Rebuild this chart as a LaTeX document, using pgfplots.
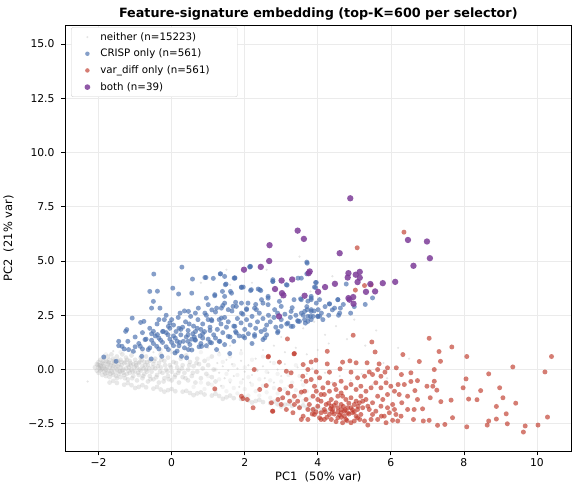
\documentclass[border=0pt]{standalone}
\usepackage{pgfplots}
\pgfplotsset{compat=1.18}
\usepackage{fontspec}
\setmainfont{DejaVu Sans}
\definecolor{cblue}{HTML}{4C72B0}
\definecolor{cred}{HTML}{C0392B}
\definecolor{cpurple}{HTML}{7D3C98}
\definecolor{cgray}{HTML}{B4B4B4}
\begin{document}
\begin{tikzpicture}
\begin{axis}[
  scale only axis, width=508pt, height=427pt,
  xmin=-2.92, xmax=10.95, ymin=-3.77, ymax=15.85,
  xtick={-2,0,2,4,6,8,10},
  xticklabels={−2,0,2,4,6,8,10},
  ytick={-2.5,0,2.5,5,7.5,10,12.5,15},
  yticklabels={−2.5,0.0,2.5,5.0,7.5,10.0,12.5,15.0},
  tick align=outside, tick pos=left,
  major tick length=4pt,
  every tick/.style={black, line width=0.7pt},
  ticklabel style={font=\fontsize{10.8}{12}\selectfont},
  yticklabel style={xshift=-3pt},
  grid=major,
  major grid style={black!8, line width=0.6pt},
  axis line style={black, line width=0.8pt},
  xlabel={PC1\ \ (50\% var)}, ylabel={PC2\ \ (21\% var)},
  label style={font=\fontsize{11.5}{13}\selectfont},
  xlabel style={yshift=2pt},
  ylabel style={yshift=8pt},
  title={\rule{0pt}{14pt}\bfseries Feature-signature embedding (top-K=600 per selector)},
  title style={font=\fontsize{12.8}{15}\selectfont, yshift=-4pt},
  legend style={at={(0.012,0.996)}, anchor=north west, draw=black!18, rounded corners=2pt,
    font=\fontsize{10.3}{12}\selectfont, row sep=3.4pt, inner xsep=4pt, inner ysep=3pt},
  legend image code/.code={\path (0cm,0cm) (0.8cm,0cm); \draw[#1, every mark/.append style={scale=0.9}] plot coordinates {(0.42cm,0cm)};},
  legend cell align=left,
]
% neither (diffuse)
\addplot[only marks, mark=*, mark size=1.2pt, color=cgray, mark options={draw opacity=0, fill=cgray, fill opacity=0.35}] coordinates {
(-2.3,-0.55)
(0.2,1.0)(0.6,0.9)(1.0,1.0)(1.3,0.8)(1.6,1.1)(1.9,0.9)(2.2,1.2)(2.5,0.9)(2.8,1.1)(3.1,0.8)(3.4,1.0)(3.7,0.7)
(4.0,0.9)(4.3,1.2)(1.8,1.6)(2.4,1.8)(3.0,1.5)(3.6,1.9)(4.2,1.6)(4.8,1.4)(5.3,1.1)(2.7,2.4)(3.3,2.7)(3.9,2.2)
(4.5,2.0)(5.0,2.3)(-1.0,0.8)(-0.5,0.8)(-1.6,0.85)(1.2,3.4)(1.6,3.9)(2.6,4.6)(3.8,3.6)(4.4,4.3)(2.2,4.0)(3.0,3.3)
(5.6,1.8)(6.2,1.0)(5.8,0.3)(6.5,0.5)(1.5,4.6)(0.8,4.0)(3.5,5.2)
(1.25,0.3)(1.3,-0.15)(1.35,-0.75)(1.4,0.15)(1.45,-0.4)(1.5,0.45)(1.55,-0.05)(1.6,-0.6)(1.65,0.25)(1.7,-0.3)(1.8,0.05)
(1.85,-0.8)(1.9,0.4)(1.95,-0.45)(2.0,-0.1)(2.1,0.2)(2.15,-0.6)(2.2,-0.25)(2.3,0.5)(2.35,-0.05)(2.4,-0.85)(2.5,0.15)(2.55,-0.4)
(2.65,-0.15)(2.7,0.35)(2.8,-0.6)(2.9,0.0)(3.0,-0.3)(3.1,0.25)(3.2,-0.75)(3.3,-0.1)(3.45,0.1)(3.55,-0.5)(3.7,-0.2)(3.85,0.05)
(4.0,-0.45)(4.2,-0.15)(4.4,-0.6)(4.6,-0.3)(4.9,-0.5)(5.2,-0.2)(5.5,-0.7)(5.9,-0.4)
};
\addlegendentry{neither (n=15223)}
% neither (fan of faint points between the core and the clusters)
\addplot[forget plot, only marks, mark=*, mark size=2.2pt, color=cgray, mark options={draw opacity=0, fill=cgray, fill opacity=0.16}] coordinates {
(0.6,-0.8)(0.9,-0.9)(1.2,-0.95)(1.5,-1.0)(1.8,-1.1)(2.1,-1.2)(2.4,-1.2)(2.7,-1.3)(3.0,-1.35)(3.3,-1.4)(3.6,-1.45)
(0.8,-0.6)(1.1,-0.7)(1.4,-0.8)(1.7,-0.85)(2.0,-0.9)(2.3,-1.0)(2.6,-1.05)(2.9,-1.1)(3.2,-1.15)(3.5,-1.2)(3.8,-1.3)
(1.0,-0.3)(1.3,-0.45)(1.6,-0.5)(1.9,-0.6)(2.2,-0.7)(2.5,-0.75)(2.8,-0.85)(3.1,-0.9)(3.4,-0.95)(3.7,-1.0)
(1.2,0.0)(1.5,-0.2)(1.8,-0.25)(2.1,-0.35)(2.4,-0.45)(2.7,-0.5)(3.0,-0.55)(3.3,-0.6)(3.6,-0.7)
(1.4,0.35)(1.7,0.2)(2.0,0.1)(2.3,0.0)(2.6,-0.1)(2.9,-0.2)(3.2,-0.25)(3.5,-0.3)
(1.0,0.5)(1.6,0.6)(2.2,0.45)(2.8,0.3)(3.4,0.2)(0.8,0.8)(1.3,0.7)(1.9,0.75)(2.5,0.6)
(-1.4,0.8)(-1.1,0.85)(-0.8,0.8)(-0.3,0.9)(0.0,0.8)(0.4,0.95)(-1.8,0.7)
};
% neither (dense core and lower streak)
\addplot[forget plot, only marks, mark=*, mark size=2.4pt, color=cgray, mark options={draw opacity=0, fill=cgray, fill opacity=0.3}] coordinates {
(-2.1,0.1)(-2.05,0.25)(-2.05,-0.05)(-2.0,0.35)(-2.0,0.1)(-2.0,-0.15)(-1.95,0.45)(-1.95,0.2)(-1.95,-0.05)(-1.9,0.3)(-1.9,-0.25)(-1.9,0.05)
(-1.85,0.55)(-1.85,0.15)(-1.85,-0.1)(-1.8,0.4)(-1.8,-0.3)(-1.8,0.0)(-1.75,0.25)(-1.75,0.6)(-1.75,-0.15)(-1.7,0.45)(-1.7,0.1)(-1.7,-0.35)
(-1.65,0.3)(-1.65,-0.05)(-1.65,0.7)(-1.6,0.15)(-1.6,-0.25)(-1.6,0.5)(-1.55,0.35)(-1.55,-0.1)(-1.5,0.0)(-1.5,0.6)(-1.5,-0.4)(-1.45,0.25)
(-1.45,-0.2)(-1.4,0.45)(-1.4,0.1)(-1.4,-0.35)(-1.35,0.7)(-1.35,-0.05)(-1.3,0.3)(-1.3,-0.25)(-1.25,0.55)(-1.25,0.05)(-1.2,-0.45)(-1.2,0.2)
(-1.15,0.4)(-1.15,-0.15)(-1.1,0.0)(-1.1,0.65)(-1.05,-0.3)(-1.05,0.25)(-1.0,0.45)(-1.0,-0.1)(-0.95,-0.5)(-0.95,0.1)(-0.9,0.3)(-0.9,-0.25)
(-0.85,0.55)(-0.85,-0.05)(-0.8,0.15)(-0.8,-0.4)(-0.75,0.35)(-0.75,-0.2)(-0.7,0.0)(-0.7,0.6)(-0.65,-0.55)(-0.65,0.2)(-0.6,0.4)(-0.6,-0.3)
(-0.55,-0.1)(-0.5,0.25)(-0.5,-0.45)(-0.45,0.5)(-0.45,0.05)(-0.4,-0.25)(-0.35,0.3)(-0.35,-0.6)(-0.3,0.1)(-0.3,0.7)(-0.25,-0.15)(-0.2,0.4)
(-0.2,-0.4)(-0.15,0.0)(-0.1,0.55)(-0.1,-0.3)(-0.05,0.2)(0.0,-0.5)(0.0,-0.1)(0.05,0.35)(0.1,-0.25)(0.1,0.75)(0.15,0.1)(0.2,-0.6)
(0.2,-0.05)(0.25,0.5)(0.3,-0.35)(0.3,0.2)(0.35,-0.15)(0.4,0.65)(0.45,-0.5)(0.45,0.0)(0.5,0.35)(0.55,-0.3)(0.6,0.15)(0.65,-0.6)
(0.7,-0.1)(0.7,0.5)(0.75,0.25)(0.8,-0.4)(0.85,0.05)(0.9,0.4)(0.95,-0.2)(1.0,-0.65)(1.0,0.2)(1.1,-0.35)(1.1,0.6)(1.15,0.0)(1.2,-0.55)
(-1.98,0.18)(-1.92,0.0)(-1.88,0.38)(-1.82,-0.18)(-1.78,0.12)(-1.72,0.32)(-1.68,-0.2)(-1.62,0.05)(-1.58,0.4)(-1.52,-0.3)(-1.48,0.15)(-1.42,-0.1)
(-1.38,0.35)(-1.32,0.0)(-1.28,-0.4)(-1.22,0.45)(-1.18,-0.05)(-1.12,0.2)(-1.08,-0.4)(-1.02,0.1)(-0.98,0.3)(-0.92,-0.15)(-0.88,0.0)(-0.82,0.45)
(-0.78,-0.3)(-0.72,0.2)(-0.68,-0.1)(-0.62,0.05)(-0.58,-0.45)(-0.52,0.1)(-0.48,0.4)(-0.42,-0.35)(-0.38,0.15)(-0.32,-0.1)(-0.28,0.45)(-0.22,-0.55)
(-0.18,0.2)(-0.12,-0.1)(-0.08,-0.45)(-0.02,0.1)(0.08,-0.35)(0.12,0.3)(0.18,-0.15)(0.28,0.05)(0.38,-0.4)(0.48,0.2)(0.58,-0.15)(0.68,0.3)
(-2.02,0.22)(-1.97,0.05)(-1.93,0.15)(-1.87,0.25)(-1.83,0.05)(-1.77,0.35)(-1.73,-0.05)(-1.67,0.2)(-1.63,-0.15)(-1.57,0.25)(-1.53,0.1)(-1.47,0.4)
(-1.43,-0.05)(-1.37,0.2)(-1.33,-0.15)(-1.27,0.35)(-1.23,-0.2)(-1.17,0.1)(-1.13,0.3)(-1.07,-0.1)(-0.97,0.2)(-0.87,0.35)(-0.77,0.05)(-0.67,0.35)
(-1.7,-0.6)(-1.5,-0.62)(-1.3,-0.7)(-1.1,-0.72)(-0.9,-0.8)(-0.7,-0.82)(-0.5,-0.88)(-0.3,-0.92)(-0.1,-0.95)(0.1,-1.0)(0.3,-1.02)(0.5,-1.08)
(0.7,-1.1)(0.9,-1.15)(1.1,-1.2)(1.3,-1.22)(1.5,-1.28)(1.7,-1.32)(1.9,-1.36)(2.1,-1.42)(2.3,-1.45)(2.5,-1.5)(2.7,-1.55)(2.9,-1.6)
(3.1,-1.62)(3.3,-1.68)(3.5,-1.72)(3.7,-1.75)(3.9,-1.8)(4.1,-1.85)(4.3,-1.9)(-1.6,-0.52)(-1.2,-0.62)(-0.8,-0.72)(-0.4,-0.8)(0.0,-0.9)
(0.4,-0.98)(0.8,-1.05)(1.2,-1.12)(1.6,-1.2)(2.0,-1.3)(2.4,-1.4)(2.8,-1.48)(3.2,-1.58)(3.6,-1.65)(4.0,-1.75)(-1.0,-0.85)(-0.2,-1.02)
(0.6,-1.18)(1.4,-1.35)(2.2,-1.52)(3.0,-1.7)(3.8,-1.88)
};
% CRISP only
\addplot[only marks, mark=*, mark size=2.5pt, color=cblue, mark options={draw opacity=0, fill=cblue, fill opacity=0.68}] coordinates {
(0.28,4.72)(-0.49,4.40)(0.57,4.17)(0.91,4.24)(1.33,4.41)(1.14,4.20)(1.45,4.29)(1.71,4.21)(2.16,4.75)(-0.60,3.60)(-0.39,3.61)(0.03,3.75)
(0.19,3.48)(0.55,3.52)(0.95,3.29)(1.18,3.40)(1.49,3.94)(1.39,3.60)(1.61,3.60)(1.91,3.78)(2.16,3.64)(2.44,3.64)(2.77,4.06)(3.71,4.90)
(-0.50,3.14)(-0.55,2.83)(-0.32,2.83)(-1.08,2.37)(-0.85,2.17)(-0.76,2.22)(-1.23,1.84)(-1.26,1.76)(-1.45,1.30)(-1.36,1.07)(-1.52,0.38)(-1.86,0.58)
(-1.18,0.92)(-1.05,0.84)(-0.86,1.07)(-0.73,1.38)(-0.50,1.76)(-0.39,1.61)(-0.23,1.76)(-0.09,1.99)(0.0,2.30)(0.23,2.60)(0.46,2.68)(0.73,2.83)
(1.00,2.99)(1.23,2.83)(1.45,3.06)(1.68,2.91)(1.91,3.06)(2.05,2.76)(2.27,2.83)(2.46,3.22)(2.64,2.99)(2.82,2.76)(3.00,2.91)(3.27,2.68)
(3.55,2.60)(3.82,2.68)(4.05,2.45)(3.27,1.99)(3.50,2.22)(3.73,2.22)(2.55,1.46)(2.27,1.61)(2.00,1.46)(1.77,1.69)(1.55,1.53)(1.59,0.74)
(1.32,1.30)(1.09,1.23)(1.23,0.92)(0.82,1.07)(0.64,1.38)(0.46,0.92)(0.27,0.61)(0.41,0.54)(0.09,0.77)(-0.09,0.92)(-0.27,0.61)(-0.56,0.49)
(-0.41,1.07)(-0.64,0.92)(-0.82,0.61)
(3.70,4.95)(3.70,4.41)(3.94,4.01)(3.94,3.78)(4.78,3.94)(3.82,3.29)(3.73,3.15)(3.96,3.06)(4.32,3.02)(4.55,3.22)(4.62,2.83)(4.46,2.83)
(4.57,2.50)(3.82,2.76)(3.64,2.68)(3.73,2.45)(3.87,2.45)(4.00,2.45)(4.14,2.30)(3.66,2.14)
(2.14,4.72)(1.73,4.23)(2.77,4.14)(3.46,4.21)(3.16,3.89)(3.96,4.01)(4.55,3.22)(4.32,3.03)(3.91,3.80)(1.96,3.80)(2.41,3.68)(2.64,3.37)
(3.35,3.22)(3.53,3.26)(3.82,3.22)
(3.55,3.22)(3.82,3.37)(4.05,3.22)(3.71,2.76)(4.01,2.76)(3.46,2.22)(3.64,2.30)(3.82,2.30)(4.00,2.45)(3.18,2.14)(3.32,1.99)(3.00,1.99)
(2.91,1.76)(2.55,1.84)(2.27,1.53)(2.50,1.38)(1.96,1.53)(1.73,1.99)(1.36,2.37)(1.09,2.30)(0.91,2.60)(0.94,4.24)(1.34,4.41)(1.47,3.91)
(1.73,4.21)(1.91,3.80)(2.14,4.75)(1.18,3.45)(1.45,3.37)(1.64,3.52)(2.18,3.68)(2.37,3.71)(2.50,3.06)(2.77,4.06)(2.95,3.14)(2.64,3.29)
(3.14,3.91)(3.55,4.21)(1.77,2.91)(2.09,3.06)(2.32,2.76)(1.91,2.60)(1.55,2.76)(1.36,2.83)
(5.0,2.9)(5.3,3.0)(4.9,2.6)(5.5,3.3)
(-1.2,1.3)(-1.0,1.5)(-0.9,1.2)(-0.8,1.7)(-0.7,1.4)(-0.6,1.9)(-0.5,1.2)(-0.45,1.55)(-0.4,2.1)(-0.3,1.35)(-0.25,1.75)(-0.2,2.3)
(-0.15,1.05)(-0.1,1.6)(-0.05,1.9)(0.0,1.25)(0.05,2.05)(0.1,1.45)(0.12,1.75)(0.18,2.4)(0.2,1.1)(0.25,1.6)(0.3,1.95)(0.32,1.3)
(0.38,2.2)(0.4,1.5)(0.45,1.8)(0.5,1.15)(0.52,2.45)(0.58,1.65)(0.6,2.0)(0.65,1.35)(0.7,1.9)(0.72,2.3)(0.78,1.55)(0.8,1.2)
(0.85,2.1)(0.9,1.75)(0.95,2.5)(1.0,1.4)(1.05,1.95)(1.1,2.25)(1.15,1.6)(1.2,2.65)(1.25,1.85)(1.3,1.3)(1.35,2.1)(1.4,1.7)
(1.45,2.4)(1.5,1.95)(1.55,2.2)(1.6,1.5)(1.65,2.7)(1.7,2.0)(1.75,1.75)(1.8,2.35)(1.85,1.55)(1.9,2.15)(1.95,2.55)(2.0,1.85)
(2.05,2.3)(2.1,1.65)(2.15,2.05)(2.2,2.45)(2.3,1.9)(2.35,2.2)(2.4,2.6)(2.45,1.75)(2.5,2.35)(2.6,2.05)(2.65,2.5)(2.7,2.2)
(2.8,2.4)(2.85,1.95)(2.9,2.6)(3.0,2.3)(3.1,2.55)(3.15,2.1)(3.25,2.4)(3.3,2.85)(3.4,2.5)(3.45,2.25)(3.6,2.5)(3.7,2.9)
(3.8,2.45)(3.9,2.7)(4.1,2.6)(4.2,2.9)(4.3,2.5)(4.4,2.75)(4.6,2.6)(4.7,3.0)
(-0.6,1.0)(-0.35,0.95)(0.15,0.85)(0.35,1.0)(0.55,0.9)(0.75,1.05)(-0.8,0.95)(-1.0,1.05)(-1.3,0.95)(-1.45,1.1)(-0.55,1.65)(-0.05,1.4)
(0.22,1.25)(0.45,1.3)(0.62,1.5)(0.85,1.45)(1.05,1.25)(1.2,1.45)(0.2,1.9)(0.48,2.1)(0.8,1.85)(1.0,2.3)(1.3,2.3)(0.65,2.6)
(0.35,2.7)(1.1,2.75)(1.4,2.95)(1.75,3.1)(2.05,2.8)(2.3,3.0)(-0.15,2.5)(-0.35,2.3)(0.95,1.1)(1.45,1.15)(1.7,1.3)(2.2,1.2)
(2.6,1.6)(2.9,1.7)(0.05,1.1)(-0.25,1.25)
(-0.35,1.45)(-0.15,1.7)(0.05,1.55)(0.25,1.85)(0.45,1.6)(0.65,1.75)(0.85,1.65)(1.05,1.8)(0.15,1.3)(0.55,1.4)(-0.55,1.35)(-0.05,2.15)
};
\addlegendentry{CRISP only (n=561)}
% var_diff only
\addplot[only marks, mark=*, mark size=2.5pt, color=cred, mark options={draw opacity=0, fill=cred, fill opacity=0.66}] coordinates {
(6.36,6.33)(5.08,5.61)(5.03,3.66)(5.28,3.87)(5.46,3.90)(2.64,0.58)(1.18,-0.89)(1.91,-1.23)(2.07,-1.38)(1.95,-1.34)(2.76,-1.92)(3.35,0.72)
(4.97,1.58)(7.05,1.44)(5.48,1.27)(3.17,1.41)(7.67,1.04)(5.57,0.81)(7.32,0.83)(4.26,0.84)(3.36,0.74)(6.33,0.69)(8.08,0.60)(10.40,0.60)
(2.65,0.61)(7.36,0.38)(9.34,0.12)(10.22,-0.11)(8.68,-0.20)(8.06,-0.43)(2.26,0.0)(6.78,0.37)(7.19,0.0)(7.19,-0.54)(7.98,-0.84)(8.46,-0.97)
(8.98,-0.84)(8.13,-1.36)(8.36,-1.39)(9.07,-1.30)(9.42,-1.55)(8.89,-1.70)(9.16,-2.04)(10.29,-2.19)(8.68,-2.37)(8.89,-2.28)(8.64,-2.56)(9.19,-2.50)
(9.68,-2.60)(10.03,-2.56)(9.63,-2.88)(8.08,-2.64)(7.65,-1.41)(7.37,-1.48)(7.69,-2.22)(7.48,-2.53)(7.28,-2.57)(7.05,-2.34)(6.89,-2.37)(6.62,-2.30)
(6.87,-1.81)(7.08,-1.30)(7.15,-0.77)(7.26,-0.95)(6.99,-0.77)(6.66,-0.97)(6.73,-0.51)(6.55,-0.15)(6.29,-0.23)(6.15,0.08)(5.91,0.08)(5.68,0.26)
(5.35,0.31)(5.05,0.31)(4.88,0.40)(4.68,0.34)(4.26,0.26)(3.95,0.43)(3.82,0.35)(3.60,0.23)(2.95,0.34)(3.14,-0.08)(3.27,-0.15)(3.73,0.0)
(3.96,-0.11)(4.32,-0.12)(4.61,0.03)(4.91,-0.12)(5.41,-0.11)(5.64,0.0)(5.84,-0.12)(6.55,-0.55)(6.37,-0.69)(6.20,-0.69)(6.10,-1.00)(6.23,-1.15)
(6.46,-1.23)(6.30,-1.53)(6.46,-1.84)(6.64,-1.84)(6.73,-1.38)(2.59,-0.74)(2.41,-0.92)(2.23,-1.76)(2.73,-1.53)(2.77,-1.92)(2.96,-0.92)(2.91,-1.38)
(3.14,-1.84)(3.23,-1.46)(3.36,-1.23)(3.32,-1.99)(3.55,-2.30)(3.60,-2.15)(3.50,-1.76)(3.55,-1.04)(3.68,-0.54)(3.59,-0.31)(3.82,-0.46)(3.91,-0.77)
(3.87,-1.23)(3.77,-1.61)(4.00,-1.69)(3.91,-2.07)(4.09,-1.99)(4.05,-2.22)(4.18,-2.30)(4.32,-2.07)(4.41,-1.84)(4.55,-2.22)(4.64,-1.99)(4.73,-2.15)
(4.77,-2.30)(4.68,-2.45)(5.00,-2.37)(5.09,-2.22)(5.37,-2.56)(5.64,-2.30)(5.87,-2.45)(6.05,-2.34)(6.19,-2.37)(6.28,-2.15)(6.14,-2.07)(5.96,-1.99)
(5.74,-2.15)(5.50,-2.07)(5.41,-1.84)(5.23,-1.76)(5.09,-1.84)(4.95,-1.99)(4.82,-1.76)(4.64,-1.61)(4.50,-1.53)(4.37,-1.38)(4.23,-1.61)(4.09,-1.46)
(4.18,-1.15)(4.32,-1.00)(4.50,-0.92)(4.64,-1.08)(4.77,-0.84)(4.91,-0.69)(5.05,-0.92)(5.18,-0.77)(5.32,-1.00)(5.46,-0.84)(5.59,-0.61)(5.73,-0.84)
(5.87,-0.61)(6.00,-0.77)(5.91,-1.15)(5.78,-1.38)(5.64,-1.23)(5.50,-1.53)(5.32,-1.38)(5.18,-1.23)(5.05,-1.46)(4.91,-1.30)(4.77,-1.38)(4.68,-1.23)
(4.55,-1.23)(4.46,-0.69)(4.28,-0.61)(4.14,-0.84)(4.05,-0.38)(5.09,-0.38)(5.28,-0.31)(5.50,-0.23)(5.73,-0.31)(4.64,-0.54)(4.09,-2.30)(4.37,-2.30)
(3.73,-2.30)(4.82,-1.99)(5.05,-2.15)(4.91,-2.45)(5.28,-2.37)(5.46,-2.30)(5.18,-2.07)(6.05,-1.61)(6.10,-1.84)(5.91,-1.76)(5.73,-1.69)(5.82,-2.15)
(5.59,-1.92)(5.37,-1.69)(4.55,-1.76)(4.37,-1.69)(4.18,-1.84)(4.64,-1.84)(4.73,-1.92)(4.91,-1.76)(5.00,-1.61)(5.14,-1.53)(5.23,-1.46)(3.27,-0.77)
(3.18,-1.08)(3.04,-1.30)(3.00,-1.61)(3.68,-1.38)(3.64,-1.00)(3.36,-1.61)(3.45,-1.46)(3.73,-1.84)(3.87,-1.84)(4.00,-1.38)(3.96,-1.00)(4.09,-1.15)
(4.45,-2.05)(4.60,-2.10)(4.85,-2.05)(4.70,-1.70)(4.40,-1.95)(5.00,-1.95)(4.25,-2.20)(4.80,-2.35)(4.50,-2.40)(5.15,-2.30)(3.85,-2.05)(3.95,-1.95)
(4.35,-1.80)(4.55,-1.95)(4.75,-1.85)(4.95,-1.85)(4.65,-2.20)(4.30,-1.55)(4.85,-1.55)(5.10,-1.70)(4.20,-1.95)(4.45,-1.65)
};
\addlegendentry{var\_diff only (n=561)\hspace*{22pt}}
% both
\addplot[only marks, mark=*, mark size=3.2pt, color=cpurple, mark options={draw opacity=0, fill=cpurple, fill opacity=0.85}] coordinates {
(4.89,7.89)(3.45,6.40)(3.62,6.02)(2.68,5.73)(2.67,5.00)(1.98,4.60)(2.44,4.73)(4.60,5.36)(6.47,5.97)(6.99,5.90)(7.07,5.13)(6.62,4.78)
(3.78,4.52)(3.75,4.44)(4.84,4.44)(5.15,4.50)(5.04,4.37)(4.82,4.24)(5.15,4.23)(5.09,4.03)(3.01,4.10)(3.30,4.15)(2.83,3.71)(3.64,3.40)
(3.02,3.52)(3.06,3.42)(4.01,3.58)(4.20,3.80)(4.47,3.95)(5.44,3.94)(5.78,3.98)(6.12,4.04)(5.32,3.58)(5.57,3.60)(4.84,3.29)(4.97,3.34)
(4.87,3.22)(4.98,3.03)(2.94,2.45)
};
\addlegendentry{both (n=39)}
\end{axis}
\end{tikzpicture}
\end{document}
